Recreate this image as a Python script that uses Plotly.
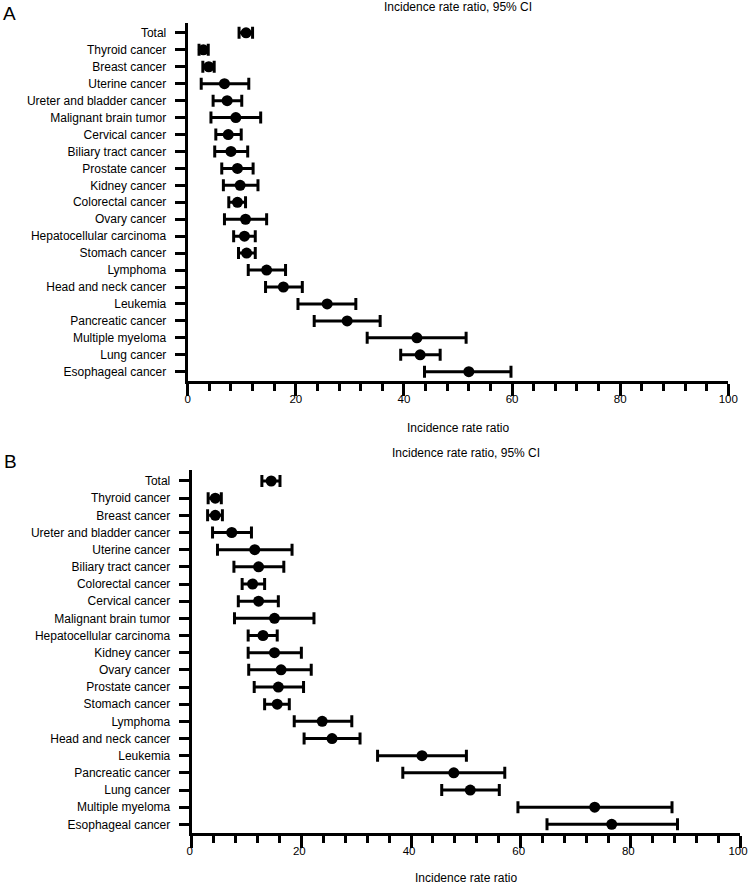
import plotly.graph_objects as go

W, H = 748, 888

# ---------------- Panel A data ----------------
cats_a = ["Total", "Thyroid cancer", "Breast cancer", "Uterine cancer",
          "Ureter and bladder cancer", "Malignant brain tumor", "Cervical cancer",
          "Biliary tract cancer", "Prostate cancer", "Kidney cancer",
          "Colorectal cancer", "Ovary cancer", "Hepatocellular carcinoma",
          "Stomach cancer", "Lymphoma", "Head and neck cancer", "Leukemia",
          "Pancreatic cancer", "Multiple myeloma", "Lung cancer", "Esophageal cancer"]
irr_a = [10.8, 2.9, 3.9, 6.8, 7.3, 8.9, 7.5, 8.0, 9.2, 9.7,
         9.2, 10.7, 10.5, 10.9, 14.6, 17.7, 25.8, 29.5, 42.4, 43.0, 52.0]
lo_a = [9.5, 2.1, 2.8, 2.5, 4.7, 4.3, 5.2, 5.0, 6.3, 6.6,
        7.6, 6.8, 8.5, 9.4, 11.2, 14.4, 20.4, 23.4, 33.2, 39.4, 43.8]
hi_a = [12.0, 3.8, 4.9, 11.3, 10.0, 13.5, 9.9, 11.1, 12.1, 13.0,
        10.7, 14.6, 12.5, 12.5, 18.1, 21.2, 31.1, 35.6, 51.5, 46.7, 59.8]

# ---------------- Panel B data ----------------
cats_b = ["Total", "Thyroid cancer", "Breast cancer", "Ureter and bladder cancer",
          "Uterine cancer", "Biliary tract cancer", "Colorectal cancer",
          "Cervical cancer", "Malignant brain tumor", "Hepatocellular carcinoma",
          "Kidney cancer", "Ovary cancer", "Prostate cancer", "Stomach cancer",
          "Lymphoma", "Head and neck cancer", "Leukemia", "Pancreatic cancer",
          "Lung cancer", "Multiple myeloma", "Esophageal cancer"]
irr_b = [14.5, 4.3, 4.3, 7.3, 11.5, 12.2, 11.1, 12.2, 15.1, 13.0,
         15.1, 16.3, 15.8, 15.6, 23.8, 25.6, 42.0, 47.8, 50.8, 73.5, 76.6]
lo_b = [12.8, 3.0, 2.9, 3.8, 4.7, 7.7, 9.2, 8.5, 7.8, 10.3,
        10.3, 10.4, 11.4, 13.3, 18.7, 20.5, 33.9, 38.5, 45.6, 59.5, 64.8]
hi_b = [16.1, 5.4, 5.6, 10.9, 18.3, 16.8, 13.3, 15.8, 22.3, 15.6,
        20.0, 21.8, 20.4, 17.8, 29.2, 30.7, 50.1, 57.1, 56.1, 87.6, 88.6]

x_ticks = [0, 20, 40, 60, 80, 100]
title_text = "Incidence rate ratio, 95% CI"
xlab_text = "Incidence rate ratio"

FONT = "Liberation Sans, Arial, Helvetica, sans-serif"
FS = 12

fig = go.Figure()


def add_panel(cats, vals, lo, hi, xa, ya):
    fig.add_trace(go.Scatter(
        x=vals, y=cats, mode="markers",
        marker=dict(symbol="circle", size=11, color="black"),
        error_x=dict(type="data", symmetric=False,
                     array=[h - v for h, v in zip(hi, vals)],
                     arrayminus=[v - l for v, l in zip(vals, lo)],
                     color="black", thickness=3, width=6),
        xaxis=xa, yaxis=ya, showlegend=False, hoverinfo="x+y"))


add_panel(cats_a, irr_a, lo_a, hi_a, "x", "y")
add_panel(cats_b, irr_b, lo_b, hi_b, "x2", "y2")


def px_x(p):
    return p / W


def px_y(p):
    return 1 - p / H


xcommon = dict(range=[0, 100], tickvals=x_ticks, showline=True, linewidth=3,
               linecolor="black", ticks="outside", ticklen=12, tickwidth=3,
               tickcolor="black", showgrid=False, zeroline=False,
               ticklabeloverflow="allow", ticklabelstandoff=-7,
               tickfont=dict(family=FONT, size=11.5, color="black"),
               minor=dict(dtick=4, tick0=0, ticks="outside", ticklen=7,
                          tickwidth=3, tickcolor="black", showgrid=False),
               automargin=False, fixedrange=True)
ycommon = dict(type="category", showline=True, linewidth=3, linecolor="black",
               ticks="outside", ticklen=10, tickwidth=3, tickcolor="black",
               showgrid=False, zeroline=False, ticklabelstandoff=6,
               ticklabeloverflow="allow",
               tickfont=dict(family=FONT, size=FS, color="black"),
               automargin=False, fixedrange=True)

fig.update_layout(
    width=W, height=H,
    margin=dict(l=0, r=0, t=0, b=0),
    paper_bgcolor="white", plot_bgcolor="white",
    font=dict(family=FONT, color="black"),
    xaxis=dict(domain=[px_x(187.7), px_x(728.3)], anchor="y", **xcommon),
    yaxis=dict(domain=[px_y(380.7), px_y(22.7)], anchor="x",
               categoryorder="array", categoryarray=cats_a,
               range=[20.53, -0.6], **ycommon),
    xaxis2=dict(domain=[px_x(191.7), px_x(740)], anchor="y2",
                ticklabelshift=-2, **xcommon),
    yaxis2=dict(domain=[px_y(833.3), px_y(470)], anchor="x2",
                categoryorder="array", categoryarray=cats_b,
                range=[20.52, -0.64], **ycommon),
)

ann = []
# panel letters
ann.append(dict(text="A", x=px_x(1), y=px_y(14), xref="paper", yref="paper",
                xanchor="left", yanchor="middle", showarrow=False,
                font=dict(family=FONT, size=19, color="black")))
ann.append(dict(text="B", x=px_x(2), y=px_y(461), xref="paper", yref="paper",
                xanchor="left", yanchor="middle", showarrow=False,
                font=dict(family=FONT, size=19, color="black")))
# titles
ann.append(dict(text=title_text, x=px_x(458), y=px_y(7.5), xref="paper", yref="paper",
                xanchor="center", yanchor="middle", showarrow=False,
                font=dict(family=FONT, size=FS, color="black")))
ann.append(dict(text=title_text, x=px_x(466), y=px_y(453), xref="paper", yref="paper",
                xanchor="center", yanchor="middle", showarrow=False,
                font=dict(family=FONT, size=FS, color="black")))
# axis titles
ann.append(dict(text=xlab_text, x=px_x(458), y=px_y(428), xref="paper", yref="paper",
                xanchor="center", yanchor="middle", showarrow=False,
                font=dict(family=FONT, size=FS, color="black")))
ann.append(dict(text=xlab_text, x=px_x(466), y=px_y(878), xref="paper", yref="paper",
                xanchor="center", yanchor="middle", showarrow=False,
                font=dict(family=FONT, size=FS, color="black")))
fig.update_layout(annotations=ann)

fig.write_html("out.html",
               config={"displayModeBar": False},
               post_script="document.body.style.margin='0px';"
                           "document.body.style.overflow='hidden';")
